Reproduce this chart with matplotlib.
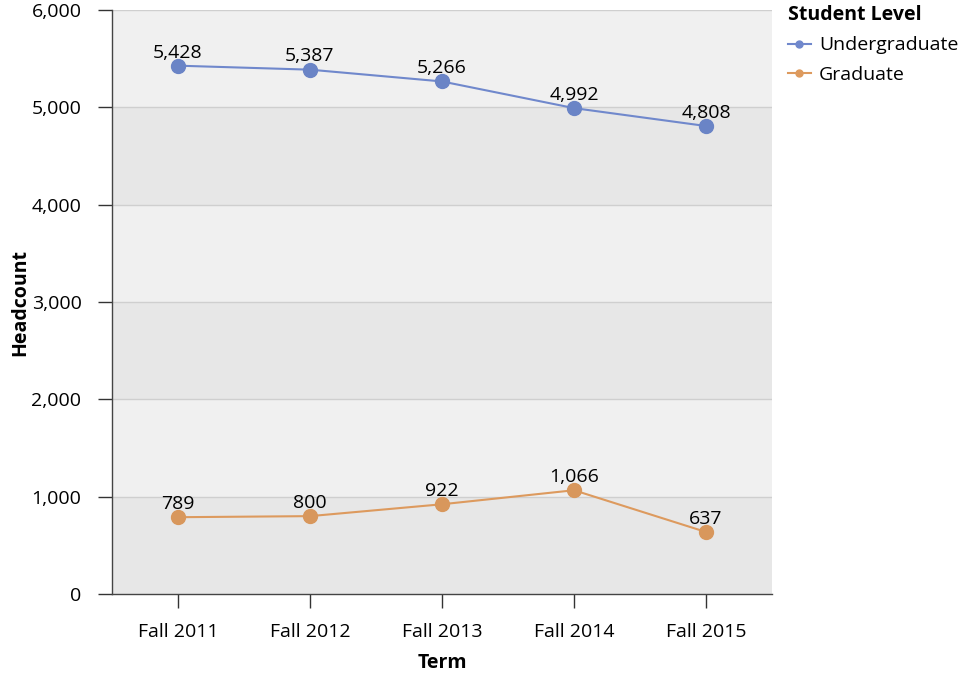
import matplotlib
matplotlib.use("Agg")
import matplotlib.pyplot as plt
from matplotlib.lines import Line2D

terms = ["Fall 2011", "Fall 2012", "Fall 2013", "Fall 2014", "Fall 2015"]
undergrad = [5428, 5387, 5266, 4992, 4808]
graduate = [789, 800, 922, 1066, 637]

plt.rcParams['font.family'] = ['Open Sans', 'DejaVu Sans']

fig = plt.figure(figsize=(9.6, 6.78), dpi=100)
ax = fig.add_axes([112 / 960, 1 - 594 / 678, 660 / 960, 584 / 678])

# alternating bands
for i in range(6):
    ax.axhspan(i * 1000, (i + 1) * 1000, color="#e7e7e7" if i % 2 == 0 else "#f0f0f0", zorder=0, lw=0)
for y in range(1000, 7000, 1000):
    ax.axhline(y, color="#cfcfcf", lw=1, zorder=1)

x = list(range(len(terms)))
ucol = "#7088cc"
gcol = "#dd9a5e"
ax.plot(x, undergrad, color=ucol, lw=1.5, marker="o", ms=10, mfc="#6a84c6", mec="#6a84c6", zorder=3)
ax.plot(x, graduate, color=gcol, lw=1.5, marker="o", ms=10, mfc="#d8975c", mec="#d8975c", zorder=3)

for xi, v in zip(x, undergrad):
    ax.annotate(f"{v:,}", (xi, v), xytext=(0, 3), textcoords="offset points", ha="center", va="bottom", fontsize=14)
for xi, v in zip(x, graduate):
    ax.annotate(f"{v:,}", (xi, v), xytext=(0, 3), textcoords="offset points", ha="center", va="bottom", fontsize=14)

ax.set_xlim(-0.5, 4.5)
ax.set_ylim(0, 6000)
ax.set_xticks(x)
ax.set_xticklabels(terms)
ax.set_yticks(range(0, 7000, 1000))
ax.set_yticklabels([f"{v:,}" for v in range(0, 7000, 1000)])
ax.tick_params(axis="both", direction="out", length=10, width=1, color="#333333", labelsize=14)
ax.tick_params(axis="x", pad=11)
ax.tick_params(axis="y", pad=12)

for s in ["top", "right"]:
    ax.spines[s].set_visible(False)
for s in ["left", "bottom"]:
    ax.spines[s].set_color("#444444")
    ax.spines[s].set_linewidth(1)

ax.set_xlabel("Term", fontsize=14, fontweight="bold")
ax.set_ylabel("Headcount", fontsize=14, fontweight="bold")
ax.xaxis.set_label_coords(0.5, (594 - 663) / 584, transform=ax.transAxes)
ax.yaxis.set_label_coords((20 - 112) / 660, 0.5, transform=ax.transAxes)
ax.xaxis.label.set_va("center")
ax.yaxis.label.set_va("center")

handles = [Line2D([0], [0], color=ucol, marker="o", ms=5, lw=1.5),
           Line2D([0], [0], color=gcol, marker="o", ms=5, lw=1.5)]
leg = fig.legend(handles, ["Undergraduate", "Graduate"], title="Student Level",
                 loc="upper left", bbox_to_anchor=(780 / 960, 1 + 3 / 678), frameon=False,
                 fontsize=14, title_fontsize=14, handlelength=1.2, handletextpad=0.4,
                 labelspacing=0.6, borderaxespad=0, alignment="left")
leg.get_title().set_fontweight("bold")

fig.savefig("out.png", dpi=100)
